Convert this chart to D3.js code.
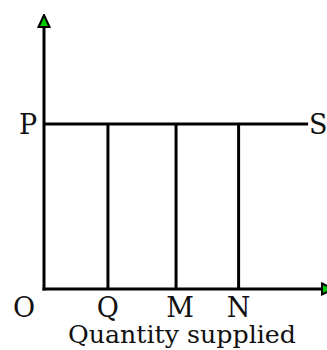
<!DOCTYPE html>
<html>
<head>
<meta charset="utf-8">
<script src="https://cdn.jsdelivr.net/npm/d3@7"></script>
<style>
  body { margin: 0; background: #fff; }
  text { font-family: "DejaVu Serif", serif; fill: #111; }
</style>
</head>
<body>
<div id="chart"></div>
<script>
// quantity marks along the x axis
const quantityLabels = ["Q", "M", "N"];
const quantityValues = [23, 47.5, 70];
// supply price level and the end of the supply line
const priceLabel = "P";
const priceValue = 63;
const supplyEnd = 95;
const supplyLabel = "S";
const originLabel = "O";
const xTitle = "Quantity supplied";

const width = 327, height = 350;
const margin = { left: 44, right: 5, top: 13, bottom: 61 };

const svg = d3.select("#chart")
    .append("svg")
    .attr("width", width)
    .attr("height", height);

const x = d3.scaleLinear().domain([0, 100]).range([margin.left, 322]);
const y = d3.scaleLinear().domain([0, 100]).range([height - margin.bottom, 27]);

// Arrowhead marker
const defs = svg.append("defs");
defs.append("marker")
    .attr("id", "arrow")
    .attr("viewBox", "0 0 14 14")
    .attr("refX", 1)
    .attr("refY", 7)
    .attr("markerWidth", 14)
    .attr("markerHeight", 14)
    .attr("markerUnits", "userSpaceOnUse")
    .attr("orient", "auto")
    .append("path")
    .attr("d", "M1,1.5 L13,7 L1,12.5 Z")
    .attr("fill", "#00cc00")
    .attr("stroke", "#000")
    .attr("stroke-width", 2)
    .attr("stroke-linejoin", "miter");

// Axes
svg.append("line")
    .attr("x1", x(0)).attr("y1", y(0) + 1.5)
    .attr("x2", x(0)).attr("y2", y(100))
    .attr("stroke", "#000").attr("stroke-width", 3)
    .attr("marker-end", "url(#arrow)");

svg.append("line")
    .attr("x1", x(0) - 1.5).attr("y1", y(0))
    .attr("x2", x(100)).attr("y2", y(0))
    .attr("stroke", "#000").attr("stroke-width", 3)
    .attr("marker-end", "url(#arrow)");

// Supply line P-S
svg.append("line")
    .attr("x1", x(0)).attr("y1", y(priceValue))
    .attr("x2", x(supplyEnd)).attr("y2", y(priceValue))
    .attr("stroke", "#000").attr("stroke-width", 3);

// Verticals at Q, M, N
svg.selectAll(".qline")
    .data(quantityValues)
    .enter()
    .append("line")
    .attr("class", "qline")
    .attr("x1", d => x(d)).attr("x2", d => x(d))
    .attr("y1", y(priceValue)).attr("y2", y(0))
    .attr("stroke", "#000").attr("stroke-width", 3);

// Labels
const fs = 27;
svg.selectAll(".qlabel")
    .data(quantityValues)
    .enter()
    .append("text")
    .attr("class", "qlabel")
    .attr("x", (d, i) => x(d) + (i === 1 ? 4 : 0))
    .attr("y", 317)
    .attr("text-anchor", "middle")
    .style("font-size", fs + "px")
    .text((d, i) => quantityLabels[i]);

svg.append("text")
    .attr("x", 24).attr("y", 317)
    .attr("text-anchor", "middle")
    .style("font-size", fs + "px")
    .text(originLabel);

svg.append("text")
    .attr("x", 28).attr("y", y(priceValue) + 10)
    .attr("text-anchor", "middle")
    .style("font-size", fs + "px")
    .text(priceLabel);

svg.append("text")
    .attr("x", x(supplyEnd) + 1).attr("y", y(priceValue) + 10)
    .style("font-size", fs + "px")
    .text(supplyLabel);

svg.append("text")
    .attr("x", 182).attr("y", 343)
    .attr("text-anchor", "middle")
    .style("font-size", "25px")
    .attr("textLength", 228)
    .attr("lengthAdjust", "spacingAndGlyphs")
    .text(xTitle);
</script>
</body>
</html>
